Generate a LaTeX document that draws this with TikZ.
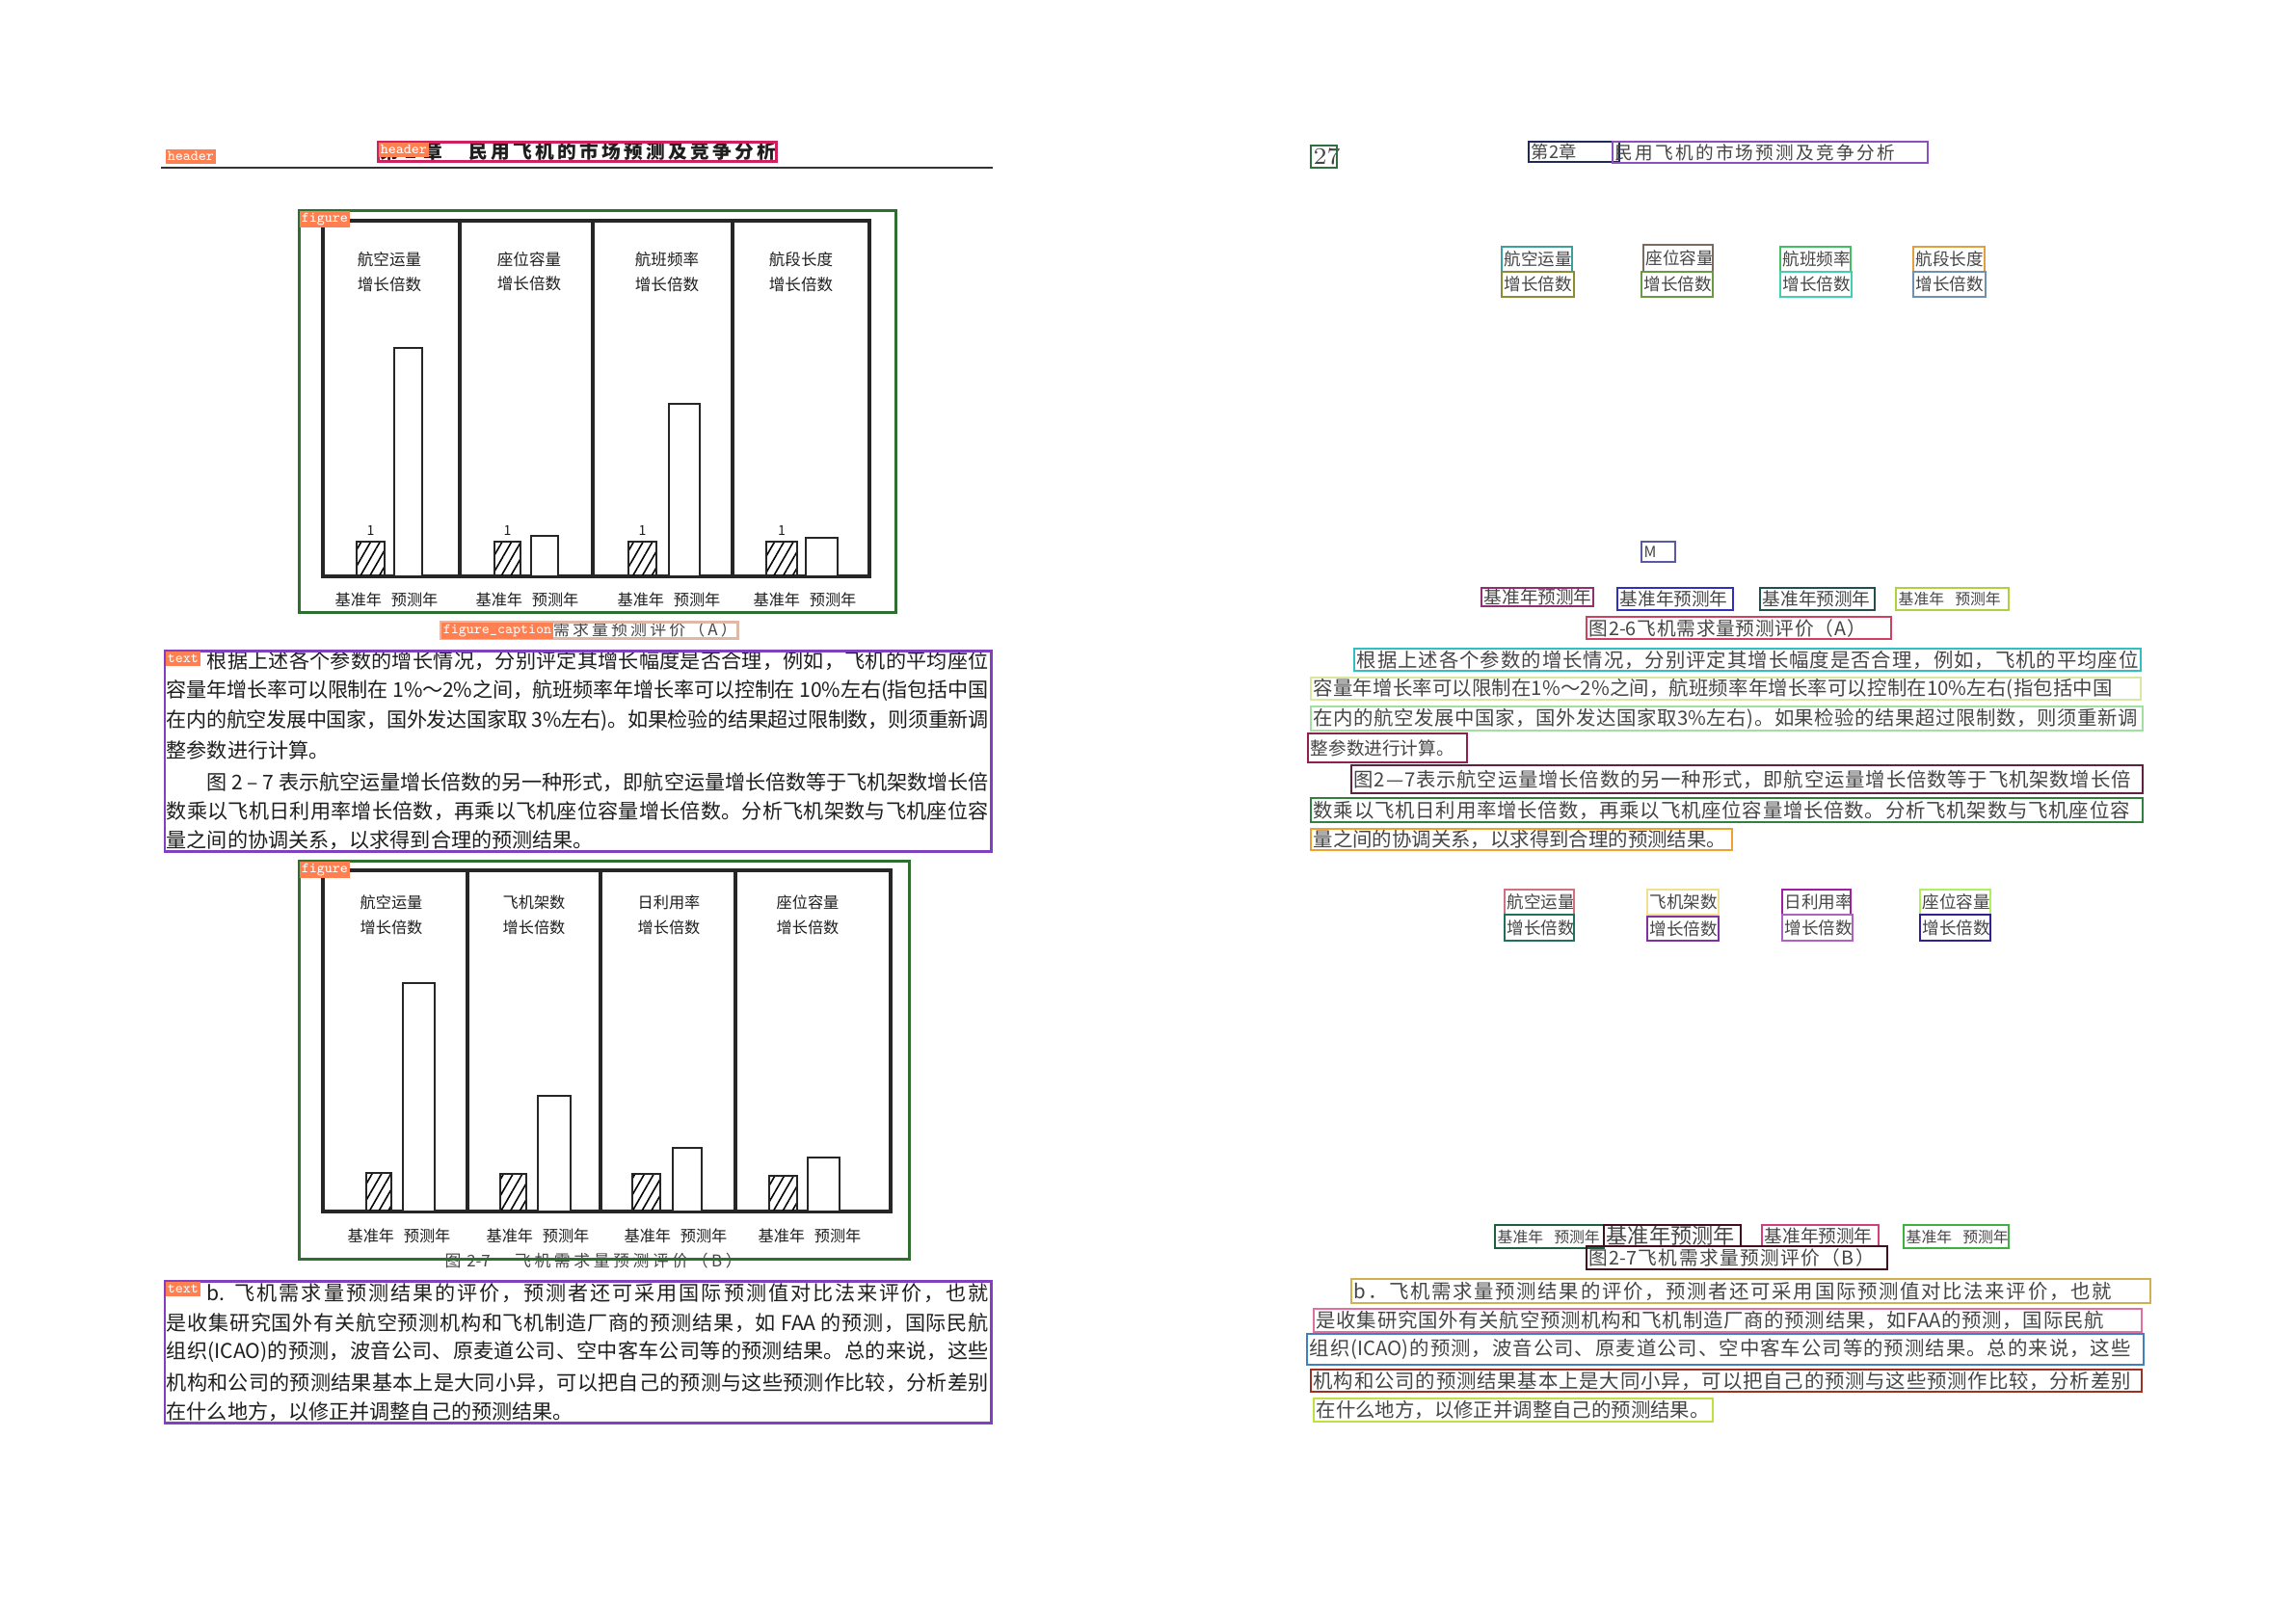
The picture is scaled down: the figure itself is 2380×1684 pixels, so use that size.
\documentclass[tikz,border=0pt]{standalone}
\usepackage{fontspec}
\usepackage{tikz}
\usetikzlibrary{patterns.meta}
\setmainfont{Noto Sans CJK SC}
\newfontfamily\lmr{Latin Modern Roman}

% glue between CJK characters, so a line can be set to a given width
\XeTeXinterchartokenstate=1
\newXeTeXintercharclass\cjkcls
\newcount\cjkc
\cjkc="4E00
\loop\ifnum\cjkc<"9FA6 \XeTeXcharclass\cjkc=\cjkcls \advance\cjkc by 1 \repeat
\XeTeXcharclass"3001=\cjkcls \XeTeXcharclass"3002=\cjkcls \XeTeXcharclass"FF0C=\cjkcls
\XeTeXcharclass"FF08=\cjkcls \XeTeXcharclass"FF09=\cjkcls \XeTeXcharclass"FF5E=\cjkcls
\XeTeXcharclass"FF0D=\cjkcls \XeTeXcharclass"FF0E=\cjkcls \XeTeXcharclass"2014=\cjkcls
\XeTeXinterchartoks\cjkcls\cjkcls={\hskip 0pt plus 1pt minus .3pt\relax}
\XeTeXinterchartoks 0 \cjkcls={\hskip 0pt plus 1pt minus .3pt\relax}
\XeTeXinterchartoks\cjkcls 0 ={\hskip 0pt plus 1pt minus .3pt\relax}

\newdimen\pxu \pxu=0.01cm
\newcommand\jb[2]{\ifnum#1=0 \hbox{#2}\else\hbox to #1\pxu{#2}\fi}

\definecolor{tagc}{HTML}{FF7F50}
\definecolor{figc}{HTML}{2E6E2E}
\definecolor{hdrc}{HTML}{D02060}
\definecolor{capc}{HTML}{E0B8A8}
\definecolor{txtc}{HTML}{8040C0}
\definecolor{ink}{HTML}{1E1E1E}
\definecolor{gink}{HTML}{454545}

\begin{document}
\begin{tikzpicture}[x=0.01cm, y=-0.01cm,
	lbltag/.style={fill=tagc, text=white, anchor=north west, inner sep=0.6pt, minimum height=0.15cm, font=\ttfamily\fontsize{4.3}{4.3}\selectfont},
	lbox/.style={line width=0.85pt},
	frm/.style={line width=1pt, draw=black!85},
	obar/.style={line width=0.75pt, draw=black!85, fill=white},
	hbar/.style={line width=0.75pt, draw=black!85, pattern={Lines[angle=60, distance=2.4pt, line width=0.45pt]}},
	clab/.style={align=center, inner sep=0pt, text=ink, font=\fontsize{4.7}{7.2}\selectfont},
	blab/.style={inner sep=0pt, text=ink, font=\fontsize{4.6}{4.6}\selectfont},
	onemark/.style={inner sep=0pt, text=ink, font=\fontsize{4}{4}\selectfont},
	ltx/.style={anchor=west, inner sep=0pt, text=ink, font=\fontsize{6}{6}\selectfont},
	obx/.style={line width=0.5pt},
	otx/.style={anchor=west, inner sep=0pt, text=gink}]
	\fill[white] (0,0) rectangle (2380,1684);
	\useasboundingbox (0,0) rectangle (2380,1684);

	% left page: header
	\draw[line width=0.6pt, draw=black!80] (167,174) -- (1030,174);
	\node[ltx, font=\bfseries\fontsize{5.6}{5.6}\selectfont] (HTITLE) at (394,157) {\hbox to 64\pxu{第\hfil 2\hfil 章}\hspace{28\pxu}\jb{318}{民用飞机的市场预测及竞争分析}};
	\draw[lbox, draw=hdrc] (392,147) rectangle (805,167);

	% left page: figure A
	\draw[frm] (335,229) rectangle (902,598);
	\foreach \x in {477,615,760} \draw[frm] (\x,229) -- (\x,598);
	\foreach \n/\ha/\hb/\oa/\ob/\top in {1/370/399/409/438/361, 2/513/540/551/579/556, 3/652/681/694/726/419, 4/795/827/836/869/558} {
		\draw[hbar] (\ha,598) rectangle (\hb,562);
		\draw[obar] (\oa,598) rectangle (\ob,\top);
		\node[onemark] (ONEA\n) at ({(\ha+\hb)/2},550) {1};
	}
	\foreach \n/\x/\lab in {1/404/航空运量, 2/549/座位容量, 3/692/航班频率, 4/831/航段长度}
		\node[clab] (LABA\n) at (\x,282) {\lab\\增长倍数};
	\foreach \n/\x in {1/401, 2/547, 3/694, 4/835}
		\node[blab] (YEARA\n) at (\x,622) {基准年\hspace{0.6em}预测年};
	\draw[lbox, draw=figc] (310,218) rectangle (929,635);
	\node[ltx, text=gink, font=\fontsize{4.8}{4.8}\selectfont] (CAPA) at (461,653) {\jb{303}{图 2-6\hspace{1.5em}飞机需求量预测评价（A）}};
	\draw[lbox, draw=capc] (457,645) rectangle (765,662);

	% left page: first text block
	\foreach \n/\y/\tw/\txt in {
		1/686/853/{\hspace{2em}根据上述各个参数的增长情况，分别评定其增长幅度是否合理，例如，飞机的平均座位},
		2/717/853/{容量年增长率可以限制在 1\%～2\%之间，航班频率年增长率可以控制在 10\%左右(指包括中国},
		3/748/853/{在内的航空发展中国家，国外发达国家取 3\%左右)。如果检验的结果超过限制数，则须重新调},
		4/778/0/{整参数进行计算。},
		5/812/853/{\hspace{2em}图 2 – 7 表示航空运量增长倍数的另一种形式，即航空运量增长倍数等于飞机架数增长倍},
		6/842/853/{数乘以飞机日利用率增长倍数，再乘以飞机座位容量增长倍数。分析飞机架数与飞机座位容},
		7/872/0/{量之间的协调关系，以求得到合理的预测结果。}}
		\node[ltx] (TXA\n) at (172,\y) {\jb{\tw}{\txt}};
	\draw[lbox, draw=txtc] (171,675) rectangle (1028,883);

	% left page: figure B
	\node[ltx, text=gink, font=\fontsize{4.8}{4.8}\selectfont] (CAPB) at (461,1308) {\jb{308}{图 2-7\hspace{1.5em}飞机需求量预测评价（B）}};
	\draw[frm] (335,903) rectangle (924,1257);
	\foreach \x in {485,623,763} \draw[frm] (\x,903) -- (\x,1257);
	\foreach \n/\ha/\hb/\htop/\oa/\ob/\top in {1/380/406/1217/418/451/1020, 2/519/546/1218/558/592/1137, 3/656/685/1218/698/728/1191, 4/798/827/1220/838/871/1201} {
		\draw[hbar] (\ha,1257) rectangle (\hb,\htop);
		\draw[obar] (\oa,1257) rectangle (\ob,\top);
	}
	\foreach \n/\x/\lab in {1/406/航空运量, 2/554/飞机架数, 3/694/日利用率, 4/838/座位容量}
		\node[clab, font=\fontsize{4.6}{7.4}\selectfont] (LABB\n) at (\x,949) {\lab\\增长倍数};
	\foreach \n/\x in {1/414, 2/558, 3/701, 4/840}
		\node[blab] (YEARB\n) at (\x,1282) {基准年\hspace{0.6em}预测年};
	\draw[lbox, draw=figc] (310,893) rectangle (943,1306);

	% left page: second text block
	\foreach \n/\y/\tw/\txt in {
		1/1342/853/{\hspace{2em}b. 飞机需求量预测结果的评价，预测者还可采用国际预测值对比法来评价，也就},
		2/1373/853/{是收集研究国外有关航空预测机构和飞机制造厂商的预测结果，如 FAA 的预测，国际民航},
		3/1403/853/{组织(ICAO)的预测，波音公司、原麦道公司、空中客车公司等的预测结果。总的来说，这些},
		4/1435/853/{机构和公司的预测结果基本上是大同小异，可以把自己的预测与这些预测作比较，分析差别},
		5/1465/0/{在什么地方，以修正并调整自己的预测结果。}}
		\node[ltx] (TXB\n) at (172,\y) {\jb{\tw}{\txt}};
	\draw[lbox, draw=txtc] (171,1329) rectangle (1028,1476);

	% left page: tags
	\node[lbltag] (TAGH1) at (171,154) {header};
	\node[lbltag] (TAGH2) at (392,147) {header};
	\node[lbltag] (TAGFA) at (310,218) {figure};
	\node[lbltag] (TAGCA) at (457,645) {figure\_caption};
	\node[lbltag] (TAGTA) at (171,675) {text};
	\node[lbltag] (TAGFB) at (310,893) {figure};
	\node[lbltag] (TAGTB) at (171,1329) {text};

	% right page: recognised lines
	\foreach \n/\col/\xa/\ya/\xb/\yb/\fs/\tw/\txt in {
		P27/2F6F3F/1360/151/1387/174/7/0/{\lmr 27},
		CH/1F2A5A/1586/147/1680/168/5.2/0/{第2章},
		TI/8A4FC0/1673/147/2000/169/5.3/290/{民用飞机的市场预测及竞争分析},
		FA1a/3AA0A0/1558/256/1631/282/5/0/{航空运量},
		FA1b/8C8C30/1558/282/1633/308/5/0/{增长倍数},
		FA2a/7A6A60/1705/254/1777/282/5/0/{座位容量},
		FA2b/6A9A40/1703/282/1777/308/5/0/{增长倍数},
		FA3a/40C060/1847/256/1920/282/5/0/{航班频率},
		FA3b/40D0B0/1847/282/1921/308/5/0/{增长倍数},
		FA4a/E0A040/1985/256/2059/282/5/0/{航段长度},
		FA4b/7090B0/1985/282/2060/308/5/0/{增长倍数},
		M/5A5AA0/1703/562/1738/583/4.5/0/{M},
		BA1/903070/1537/610/1653/629/5.3/0/{基准年预测年},
		BA2/3030C0/1678/610/1798/633/5.3/0/{基准年预测年},
		BA3/1F4F4F/1826/610/1945/633/5.3/0/{基准年预测年},
		BA4/B0D040/1967/610/2084/633/4.5/0/{基准年\hspace{0.7em}预测年},
		CA/D04060/1646/640/1962/663/5.6/287/{图2-6飞机需求量预测评价（A）},
		RL1/30C0C0/1405/673/2221/696/5.8/811/{根据上述各个参数的增长情况，分别评定其增长幅度是否合理，例如，飞机的平均座位},
		RL2/D8E8A0/1360/703/2221/726/5.8/829/{容量年增长率可以限制在1\%～2\%之间，航班频率年增长率可以控制在10\%左右(指包括中国},
		RL3/A0E0A0/1360/733/2223/758/5.8/855/{在内的航空发展中国家，国外发达国家取3\%左右)。如果检验的结果超过限制数，则须重新调},
		RL4/902050/1357/761/1522/791/5.3/0/{整参数进行计算。},
		RL5/602040/1402/794/2223/823/5.8/806/{图2—7表示航空运量增长倍数的另一种形式，即航空运量增长倍数等于飞机架数增长倍},
		RL6/308040/1360/828/2223/853/5.8/847/{数乘以飞机日利用率增长倍数，再乘以飞机座位容量增长倍数。分析飞机架数与飞机座位容},
		RL7/F0A030/1360/860/1797/882/5.8/0/{量之间的协调关系，以求得到合理的预测结果。},
		FB1a/D07080/1561/923/1633/949/5/0/{航空运量},
		FB1b/207060/1561/949/1633/976/5/0/{增长倍数},
		FB2a/F0E090/1709/923/1783/949/5/0/{飞机架数},
		FB2b/8030A0/1709/951/1783/976/5/0/{增长倍数},
		FB3a/A020A0/1849/923/1920/949/5/0/{日利用率},
		FB3b/B060C0/1849/949/1922/976/5/0/{增长倍数},
		FB4a/B0F060/1992/923/2065/949/5/0/{座位容量},
		FB4b/302090/1992/949/2065/976/5/0/{增长倍数},
		BB1/206040/1551/1271/1664/1295/4.5/0/{基准年\hspace{0.7em}预测年},
		BB2/401020/1664/1271/1806/1293/6.3/0/{基准年预测年},
		BB3/D04080/1828/1271/1949/1293/5.3/0/{基准年预测年},
		BB4/40B040/1975/1271/2084/1295/4.5/0/{基准年\hspace{0.7em}预测年},
		CB/401020/1646/1293/1958/1317/5.6/296/{图2-7飞机需求量预测评价（B）},
		RB1/D0B050/1402/1327/2231/1352/5.8/786/{b．飞机需求量预测结果的评价，预测者还可采用国际预测值对比法来评价，也就},
		RB2/E070A0/1363/1358/2222/1382/5.8/817/{是收集研究国外有关航空预测机构和飞机制造厂商的预测结果，如FAA的预测，国际民航},
		RB3/4080C0/1356/1384/2224/1416/5.8/852/{组织(ICAO)的预测，波音公司、原麦道公司、空中客车公司等的预测结果。总的来说，这些},
		RB4/A03020/1360/1421/2222/1444/5.8/848/{机构和公司的预测结果基本上是大同小异，可以把自己的预测与这些预测作比较，分析差别},
		RB5/C0E040/1363/1451/1777/1475/5.8/0/{在什么地方，以修正并调整自己的预测结果。}}{
		\edef\setoc{\noexpand\definecolor{oc}{HTML}{\col}}\setoc
		\node[otx, font=\fontsize{\fs}{\fs}\selectfont] (\n) at (\xa+2,{(\ya+\yb)/2}) {\jb{\tw}{\txt}};
		\draw[obx, draw=oc] (\xa,\ya) rectangle (\xb,\yb);
	}
\end{tikzpicture}
\end{document}
